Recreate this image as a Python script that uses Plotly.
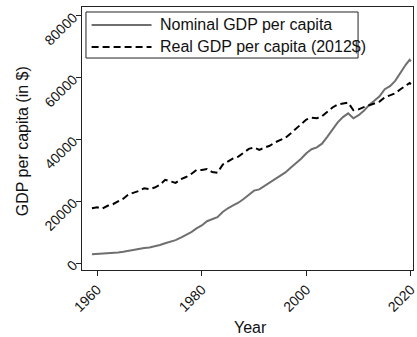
import plotly.graph_objects as go

years = [1959, 1960, 1961, 1962, 1963, 1964, 1965, 1966, 1967, 1968, 1969,
         1970, 1971, 1972, 1973, 1974, 1975, 1976, 1977, 1978, 1979,
         1980, 1981, 1982, 1983, 1984, 1985, 1986, 1987, 1988, 1989,
         1990, 1991, 1992, 1993, 1994, 1995, 1996, 1997, 1998, 1999,
         2000, 2001, 2002, 2003, 2004, 2005, 2006, 2007, 2008, 2009,
         2010, 2011, 2012, 2013, 2014, 2015, 2016, 2017, 2018, 2019,
         2019.75, 2020]

nominal = [2900, 3000, 3000, 3180, 3320, 3500, 3740, 4070, 4280, 4560, 4920,
           5120, 5460, 5900, 6500, 7000, 7480, 8300, 9100, 10100, 11300,
           12250, 13600, 14200, 14900, 16600, 17800, 18700, 19600, 20800, 22300,
           23500, 23900, 25000, 25900, 27100, 28300, 29400, 30900, 32300, 33800,
           35600, 36900, 37500, 38700, 40900, 43200, 45600, 47300, 48500, 46900,
           47900, 49300, 51200, 52600, 54000, 56300, 57300, 59000, 61800, 64200,
           65800, 65300]

real = [17800, 18100, 17700, 18600, 19100, 20000, 20900, 22300, 22800, 23400, 24300,
        24000, 24500, 25400, 27000, 26600, 26000, 27200, 27900, 28900, 30200,
        30200, 30500, 29500, 29300, 31900, 33000, 33900, 34500, 35900, 37000,
        37500, 36700, 37400, 38000, 39100, 39800, 40600, 42000, 43500, 45000,
        46500, 47100, 46900, 47600, 49000, 50400, 51400, 51700, 52000, 49500,
        49800, 50500, 51100, 51700, 52300, 53700, 54300, 55000, 56300, 57500,
        58300, 57900]

series_names = ["Nominal GDP per capita", "Real GDP per capita (2012$)"]
x_ticks = [1960, 1980, 2000, 2020]
y_ticks = [0, 20000, 40000, 60000, 80000]

FONT = "Liberation Sans, Arial, sans-serif"
GRAY = "#6f6f6f"

fig = go.Figure()
fig.add_trace(go.Scatter(x=years, y=nominal, mode="lines", name=series_names[0],
                         line=dict(color=GRAY, width=2), showlegend=False))
fig.add_trace(go.Scatter(x=years, y=real, mode="lines", name=series_names[1],
                         line=dict(color="black", width=2, dash="7px,4px"), showlegend=False))

axis_common = dict(showline=True, linecolor="#222", linewidth=1, mirror=True,
                   ticks="outside", ticklen=5, tickcolor="#222", tickwidth=1,
                   showgrid=False, zeroline=False, tickangle=-45, automargin=False,
                   ticklabeloverflow="allow",
                   tickfont=dict(family=FONT, size=14, color="#111"))

fig.update_xaxes(range=[1957.1, 2020.4], tickvals=x_ticks,
                 ticktext=[str(t) for t in x_ticks], **axis_common)
fig.update_yaxes(range=[-2170, 82900], tickvals=y_ticks,
                 ticktext=[str(t) for t in y_ticks], **axis_common)

# legend drawn as shapes + text
shapes = [
    dict(type="rect", xref="paper", yref="paper", x0=0.012, x1=0.834, y0=0.806, y1=0.981,
         line=dict(color="#222", width=1), fillcolor="white"),
    dict(type="line", xref="paper", yref="paper", x0=0.029, x1=0.21, y0=0.932, y1=0.932,
         line=dict(color=GRAY, width=2)),
    dict(type="line", xref="paper", yref="paper", x0=0.029, x1=0.21, y0=0.848, y1=0.848,
         line=dict(color="black", width=2, dash="7px,4px")),
]
annotations = [
    dict(text=series_names[0], xref="paper", yref="paper", x=0.23, y=0.932,
         xanchor="left", yanchor="middle", showarrow=False,
         font=dict(family=FONT, size=16, color="#111")),
    dict(text=series_names[1], xref="paper", yref="paper", x=0.23, y=0.848,
         xanchor="left", yanchor="middle", showarrow=False,
         font=dict(family=FONT, size=16, color="#111")),
    dict(text="Year", xref="paper", yref="paper", x=0.508, y=-0.218,
         xanchor="center", yanchor="middle", showarrow=False,
         font=dict(family=FONT, size=16, color="#111")),
    dict(text="GDP per capita (in $)", xref="paper", yref="paper", x=-0.181, y=0.49,
         xanchor="center", yanchor="middle", textangle=-90, showarrow=False,
         font=dict(family=FONT, size=16, color="#111")),
]

fig.update_layout(width=417, height=337, margin=dict(l=82, r=4, t=7, b=67),
                  paper_bgcolor="white", plot_bgcolor="white",
                  shapes=shapes, annotations=annotations, showlegend=False)

# remove the default 8px page margin so the figure fills the window exactly
fig.write_html("out.html", config={"displayModeBar": False},
               post_script="document.body.style.margin='0';document.body.style.overflow='hidden';")
